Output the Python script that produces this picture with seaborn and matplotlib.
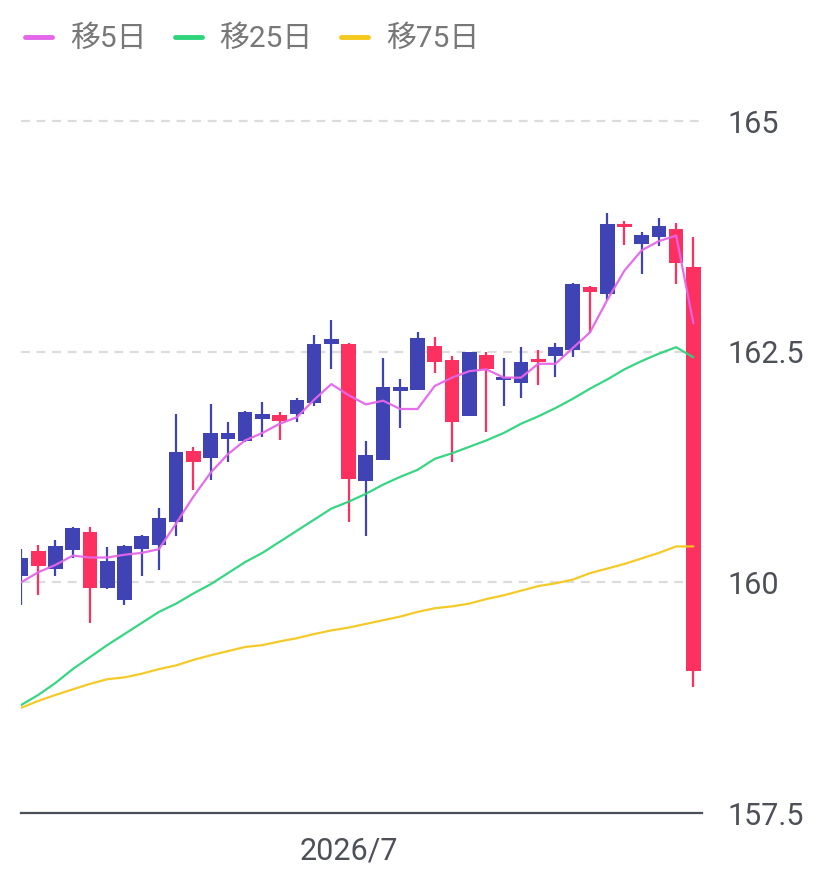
import numpy as np
import pandas as pd
import seaborn as sns
import matplotlib.pyplot as plt
from matplotlib.lines import Line2D

## candle data
opens = [160.07, 160.34, 160.15, 160.35, 160.55, 159.94, 159.81, 160.36, 160.41, 160.66,
         161.43, 161.35, 161.56, 161.53, 161.77, 161.81, 161.83, 161.94, 162.58, 162.59,
         161.10, 161.33, 162.08, 162.09, 162.56, 162.41, 161.80, 162.46, 162.19, 162.16,
         162.42, 162.45, 162.52, 163.20, 163.13, 163.89, 163.67, 163.74, 163.83, 163.42]
closes = [160.27, 160.18, 160.40, 160.59, 159.94, 160.23, 160.39, 160.50, 160.70, 161.41,
          161.30, 161.62, 161.62, 161.85, 161.83, 161.75, 161.98, 162.58, 162.64, 161.12,
          161.38, 162.12, 162.12, 162.65, 162.39, 161.74, 162.50, 162.31, 162.23, 162.39,
          162.39, 162.55, 163.23, 163.15, 163.89, 163.85, 163.77, 163.86, 163.46, 159.04]
highs = [160.36, 160.41, 160.46, 160.60, 160.60, 160.38, 160.41, 160.51, 160.81, 161.83,
         161.47, 161.93, 161.74, 161.86, 161.96, 161.85, 162.00, 162.68, 162.85, 162.60,
         161.53, 162.43, 162.21, 162.71, 162.66, 162.45, 162.50, 162.50, 162.43, 162.55,
         162.52, 162.60, 163.25, 163.21, 164.00, 163.92, 163.80, 163.95, 163.90, 163.74]
lows = [159.75, 159.86, 160.07, 160.26, 159.56, 159.93, 159.75, 160.07, 160.13, 160.50,
        161.00, 161.11, 161.30, 161.52, 161.58, 161.54, 161.74, 161.91, 162.31, 160.65,
        160.50, 161.33, 161.67, 162.09, 162.27, 161.30, 161.80, 161.63, 161.91, 162.00,
        162.14, 162.23, 162.44, 162.70, 163.06, 163.66, 163.34, 163.65, 163.24, 158.87]

## moving averages
ma5 = [160.00, 160.11, 160.19, 160.29, 160.27, 160.27, 160.30, 160.32, 160.36, 160.64,
       160.93, 161.19, 161.39, 161.54, 161.62, 161.72, 161.79, 161.98, 162.15, 162.03,
       161.93, 161.97, 161.88, 161.88, 162.13, 162.22, 162.29, 162.31, 162.22, 162.22,
       162.37, 162.37, 162.54, 162.71, 163.06, 163.38, 163.60, 163.70, 163.76, 162.81]
ma25 = [158.67, 158.78, 158.91, 159.06, 159.19, 159.32, 159.44, 159.56, 159.68, 159.77,
        159.88, 159.98, 160.10, 160.22, 160.32, 160.44, 160.56, 160.68, 160.80, 160.875,
        160.96, 161.06, 161.145, 161.22, 161.34, 161.40, 161.47, 161.54, 161.62, 161.72,
        161.80, 161.89, 161.99, 162.10, 162.20, 162.31, 162.40, 162.48, 162.55, 162.44]
ma75 = [158.64, 158.715, 158.78, 158.84, 158.90, 158.95, 158.97, 159.01, 159.06, 159.10,
        159.16, 159.21, 159.255, 159.30, 159.32, 159.36, 159.395, 159.44, 159.48, 159.51,
        159.55, 159.59, 159.63, 159.68, 159.72, 159.74, 159.77, 159.82, 159.86, 159.91,
        159.96, 159.99, 160.03, 160.10, 160.15, 160.20, 160.26, 160.32, 160.39, 160.39]

y_ticks = [157.5, 160, 162.5, 165]
y_labels = ['157.5', '160', '162.5', '165']
x_tick_pos = [19]
x_tick_labels = ['2026/7']
ma_names = ['移5日', '移25日', '移75日']
ma_colors = ['#e466ea', '#2dd47c', '#f4c81c']

UP = '#4043b4'
DOWN = '#fc3160'

df = pd.DataFrame({'open': opens, 'close': closes, 'high': highs, 'low': lows,
                   'ma5': ma5, 'ma25': ma25, 'ma75': ma75})
df['idx'] = np.arange(len(df))
df['color'] = np.where(df['close'] >= df['open'], UP, DOWN)
df['bottom'] = df[['open', 'close']].min(axis=1)
df['height'] = (df['close'] - df['open']).abs().clip(lower=0.03)

sns.set_theme(style="white")
plt.rcParams['font.family'] = ['Roboto', 'Noto Sans CJK JP', 'DejaVu Sans']

fig = plt.figure(figsize=(8.4, 8.73), dpi=100)
ax = fig.add_axes([21 / 840, 60 / 873, 681 / 840, 713 / 873])

## candles
ax.vlines(df['idx'], df['low'], df['high'], colors=df['color'], linewidth=1.6, zorder=2)
ax.bar(df['idx'], df['height'], bottom=df['bottom'], width=0.85, color=df['color'],
       linewidth=0, zorder=3)

## moving averages
for col, c in zip(['ma5', 'ma25', 'ma75'], ma_colors):
    sns.lineplot(data=df, x='idx', y=col, color=c, linewidth=1.6, ax=ax,
                 legend=False, zorder=4, alpha=0.95)

ax.set_xlim(0, 39.5)
ax.set_ylim(157.5, 165.23)

ax.yaxis.tick_right()
ax.set_yticks(y_ticks)
ax.set_yticklabels(y_labels)
ax.set_xticks(x_tick_pos)
ax.set_xticklabels(x_tick_labels)
ax.tick_params(axis='both', length=0, labelsize=22, labelcolor='#4d5157')
ax.tick_params(axis='y', pad=18)
ax.tick_params(axis='x', pad=17)
ax.set_xlabel('')
ax.set_ylabel('')

ax.yaxis.grid(True, color='#dcdcdc', linestyle=(0, (4, 3)), linewidth=1.6)
ax.xaxis.grid(False)
for s in ['top', 'left', 'right']:
    ax.spines[s].set_visible(False)
ax.spines['bottom'].set_color('#4a5058')
ax.spines['bottom'].set_linewidth(1.6)
ax.spines['bottom'].set_zorder(5)

handles = [Line2D([0], [0], color=c, linewidth=3.5) for c in ma_colors]
fig.legend(handles, ma_names, loc='center left', bbox_to_anchor=(25 / 840, 1 - 39 / 873),
           ncol=3, frameon=False, fontsize=21.5, labelcolor='#777777', borderpad=0,
           borderaxespad=0, handlelength=0.9, handletextpad=0.6, columnspacing=0.95)

plt.savefig('out.png', dpi=100)
